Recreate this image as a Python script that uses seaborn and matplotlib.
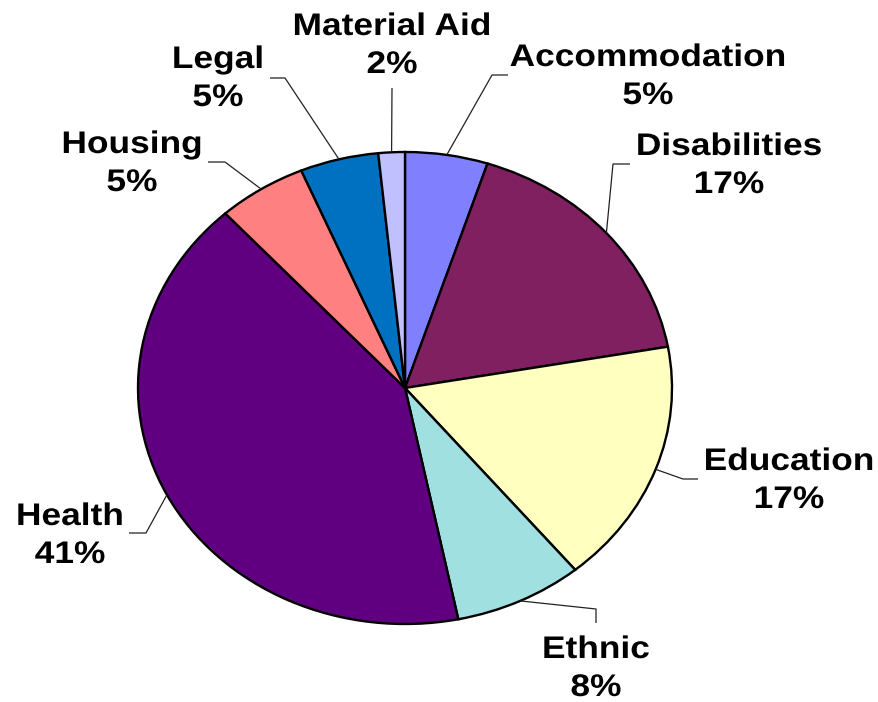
import numpy as np
import matplotlib
matplotlib.use("Agg")
import matplotlib.pyplot as plt
import seaborn as sns
from matplotlib.patheffects import AbstractPathEffect
from matplotlib.transforms import Affine2D

# ---- data ----
categories = ["Accommodation", "Disabilities", "Education", "Ethnic",
              "Health", "Housing", "Legal", "Material Aid"]
shares = [5.0, 17.2, 16.8, 7.8, 41.45, 5.4, 4.75, 1.6]
colors = ["#8080FF", "#802060", "#FFFFC0", "#A0E0E0",
          "#600080", "#FF8080", "#0070C0", "#C0C0FF"]

# ---- layout (pixel positions of labels and leader elbows) ----
# label centre x, baseline of first line y
label_pos = [(648, 66), (729, 155), (789, 470), (596, 658),
             (70, 525), (132, 153), (218, 68), (392, 35)]
# leader polyline after the wedge point: list of points
leader_pts = [[(492, 75), (508, 75)],
              [(613, 164), (630, 164)],
              [(683, 479), (698, 479)],
              [(596, 609), (596, 623)],
              [(146, 533), (129, 533)],
              [(225, 162), (208, 162)],
              [(285, 78), (270, 78)],
              [(392, 88)]]
LINE_GAP = 38

W, H = 879, 702
CX, CY, RX, RY = 405, 388, 267, 236


def to_data(px, py):
    return (px - CX) / RX, (CY - py) / RY


class HStretch(AbstractPathEffect):
    def __init__(self, sx):
        super().__init__()
        self.sx = sx

    def draw_path(self, renderer, gc, tpath, affine, rgbFace=None):
        ext = tpath.get_extents()
        c = (ext.x0 + ext.x1) / 2
        pre = Affine2D().translate(-c, 0).scale(self.sx, 1).translate(c, 0)
        renderer.draw_path(gc, tpath, pre + affine, rgbFace)


sns.set_theme(style="white")
plt.rcParams["font.family"] = ["Liberation Sans", "DejaVu Sans"]

fig = plt.figure(figsize=(W / 100, H / 100), dpi=100)
ax = fig.add_axes([0, 0, 1, 1])
wedges, _ = ax.pie(shares, colors=colors, startangle=90, counterclock=False,
                   radius=1, center=(0, 0),
                   wedgeprops=dict(edgecolor="black", linewidth=1.7))
ax.set_aspect("auto")
x0, y1 = to_data(0, 0)
x1, y0 = to_data(W, H)
ax.set_xlim(x0, x1)
ax.set_ylim(y0, y1)
ax.axis("off")

total = sum(shares)
stretch = [HStretch(1.13)]
for w, name, v, (lx, ly), pts in zip(wedges, categories, shares,
                                      label_pos, leader_pts):
    mid = np.deg2rad((w.theta1 + w.theta2) / 2)
    sx, sy = np.cos(mid), np.sin(mid)
    xs = [sx] + [to_data(*p)[0] for p in pts]
    ys = [sy] + [to_data(*p)[1] for p in pts]
    ax.plot(xs, ys, color="#222222", lw=0.9, solid_capstyle="butt")
    pct = f"{round(v / total * 100):.0f}%"
    for i, t in enumerate([name, pct]):
        tx, ty = to_data(lx, ly + i * LINE_GAP)
        ax.text(tx, ty, t, ha="center", va="baseline", fontsize=22.5,
                fontweight="bold", color="black", path_effects=stretch)

fig.savefig("out.png", dpi=100, facecolor="white")
